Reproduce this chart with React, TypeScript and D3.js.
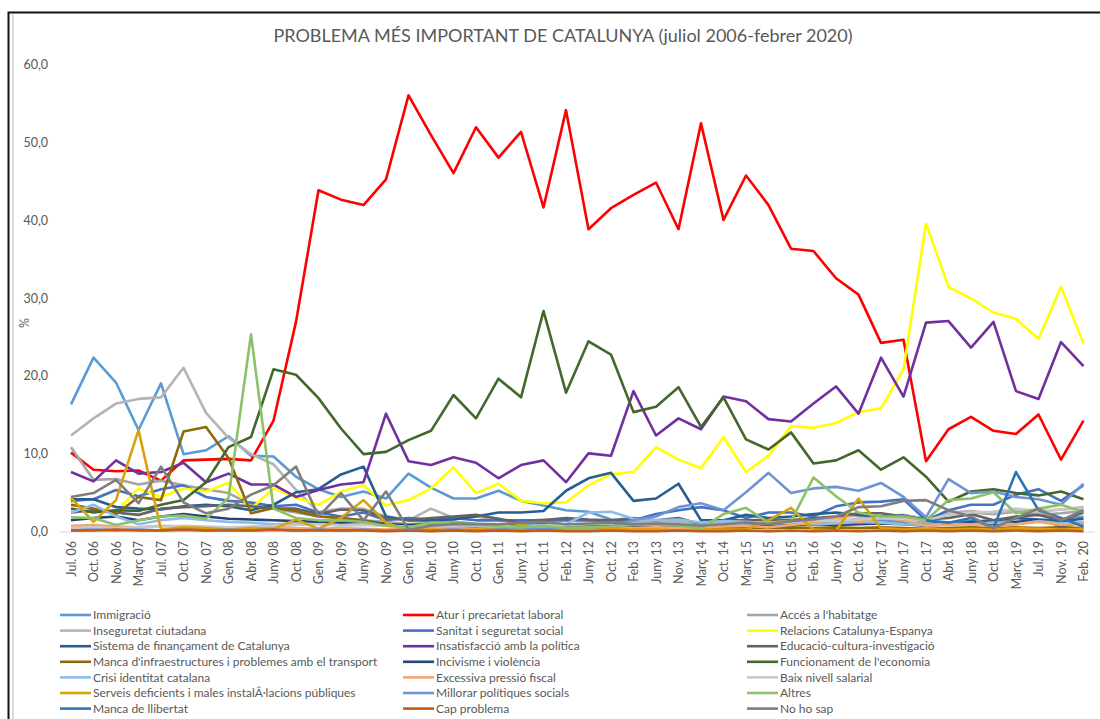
import { useEffect, useRef } from "react";
import * as d3 from "d3";

const periods = [
  "Jul. 06", "Oct. 06", "Nov. 06", "Març 07", "Jul. 07", "Oct. 07", "Nov. 07", "Gen. 08", "Abr. 08", "Juny 08",
  "Oct. 08", "Gen. 09", "Abr. 09", "Juny 09", "Nov. 09", "Gen. 10", "Abr. 10", "Juny 10", "Oct. 10", "Gen. 11",
  "Juny 11", "Oct. 11", "Feb. 12", "Juny 12", "Oct. 12", "Feb. 13", "Juny 13", "Nov. 13", "Març 14", "Oct. 14",
  "Març 15", "Juny 15", "Oct. 15", "Feb. 16", "Juny 16", "Oct. 16", "Març 17", "Juny 17", "Oct. 17", "Abr. 18",
  "Juny 18", "Oct. 18", "Març. 19", "Jul. 19", "Nov. 19", "Feb. 20",
];

const yTicks = [0, 10, 20, 30, 40, 50, 60];

// percentatges llegits del gràfic
const immigracio = [16.4, 22.4, 19.2, 13.1, 19.1, 10.0, 10.5, 12.3, 9.8, 9.7, 7.1, 5.5, 4.5, 5.2, 4.3, 7.5, 5.7, 4.3, 4.3, 5.3, 4.0, 3.4, 2.8, 2.6, 1.6, 1.3, 1.2, 1.0, 1.0, 1.1, 1.3, 1.2, 1.3, 1.2, 1.4, 1.2, 1.5, 1.3, 1.0, 1.2, 1.4, 1.3, 1.8, 1.5, 1.6, 2.0];
const atur = [10.2, 8.0, 7.8, 7.9, 6.6, 9.2, 9.3, 9.4, 9.2, 14.3, 27.0, 43.9, 42.7, 42.0, 45.3, 56.1, 51.0, 46.1, 52.0, 48.1, 51.4, 41.7, 54.2, 38.9, 41.6, 43.3, 44.9, 38.9, 52.5, 40.1, 45.8, 42.0, 36.4, 36.1, 32.6, 30.5, 24.3, 24.7, 9.1, 13.2, 14.8, 13.0, 12.6, 15.1, 9.3, 14.3];
const acces = [10.9, 6.7, 6.8, 6.1, 6.6, 6.0, 5.5, 5.0, 3.5, 3.0, 2.5, 2.0, 1.8, 1.5, 1.3, 1.0, 1.2, 1.3, 1.1, 1.0, 1.0, 0.9, 0.9, 0.8, 0.8, 0.7, 0.8, 0.8, 0.7, 0.9, 1.0, 1.1, 1.2, 1.4, 1.3, 1.7, 2.0, 1.9, 1.2, 2.2, 2.5, 2.3, 2.6, 2.2, 2.4, 2.7];
const inseguretat = [12.4, 14.6, 16.5, 17.1, 17.3, 21.1, 15.3, 12.1, 10.0, 8.7, 5.4, 2.6, 3.0, 3.0, 2.0, 1.5, 3.0, 1.8, 2.0, 1.5, 1.4, 1.6, 1.7, 1.5, 1.4, 1.3, 1.2, 1.3, 1.0, 1.2, 1.3, 1.4, 1.6, 1.5, 1.9, 2.1, 2.0, 2.2, 1.7, 2.5, 2.7, 2.4, 2.8, 2.6, 2.9, 3.2];
const sanitat = [4.0, 4.2, 5.4, 4.6, 5.5, 6.0, 4.5, 4.0, 3.8, 3.3, 3.5, 2.5, 2.0, 2.5, 1.5, 1.8, 1.6, 1.8, 1.5, 1.5, 1.5, 1.5, 1.5, 1.5, 1.5, 1.5, 2.3, 2.8, 3.2, 2.8, 1.8, 2.5, 2.5, 2.0, 3.3, 3.8, 3.9, 4.2, 1.5, 2.8, 3.5, 3.5, 4.8, 5.5, 4.0, 6.0];
const relacions = [3.5, 3.0, 2.6, 5.6, 4.5, 5.6, 5.2, 6.3, 3.0, 5.6, 4.4, 3.5, 5.2, 6.0, 3.4, 4.1, 5.6, 8.3, 5.0, 6.2, 4.0, 3.7, 3.8, 6.0, 7.4, 7.7, 10.9, 9.3, 8.2, 12.2, 7.7, 9.8, 13.6, 13.4, 14.0, 15.4, 15.9, 20.9, 39.6, 31.5, 30.0, 28.2, 27.4, 24.8, 31.5, 24.2];
const sistema = [4.2, 4.2, 3.2, 3.0, 2.9, 3.3, 3.5, 3.3, 2.8, 3.5, 5.1, 5.5, 7.4, 8.4, 2.0, 1.5, 1.5, 1.6, 2.0, 2.5, 2.5, 2.7, 5.3, 6.9, 7.6, 4.0, 4.3, 6.2, 1.5, 1.5, 2.2, 1.8, 2.0, 2.3, 2.5, 2.2, 2.0, 2.1, 1.5, 1.0, 1.3, 1.5, 1.8, 1.6, 1.4, 1.7];
const insatisfaccio = [7.7, 6.5, 9.2, 7.5, 7.7, 8.9, 6.4, 7.5, 6.1, 6.1, 4.5, 5.4, 6.1, 6.4, 15.2, 9.1, 8.6, 9.6, 8.9, 6.9, 8.6, 9.2, 6.4, 10.1, 9.8, 18.1, 12.4, 14.6, 13.2, 17.4, 16.8, 14.5, 14.2, 16.5, 18.7, 15.2, 22.4, 17.4, 26.9, 27.1, 23.7, 27.0, 18.1, 17.1, 24.4, 21.3];
const educacio = [2.5, 2.8, 2.5, 2.2, 3.0, 3.2, 3.3, 3.5, 3.3, 3.0, 3.0, 2.3, 2.9, 2.8, 1.8, 1.5, 1.8, 2.0, 2.2, 1.7, 1.2, 1.5, 1.8, 1.6, 1.5, 1.8, 1.5, 1.8, 1.0, 1.5, 1.5, 1.6, 1.5, 1.8, 2.0, 2.4, 2.4, 2.0, 1.6, 1.8, 2.3, 1.5, 2.0, 2.2, 1.5, 2.5];
const mancaInfra = [3.5, 3.0, 2.3, 4.5, 4.1, 12.9, 13.5, 9.5, 2.4, 3.1, 2.7, 2.0, 1.8, 1.5, 1.0, 0.8, 0.7, 0.8, 0.6, 0.7, 0.6, 0.5, 0.5, 0.6, 0.5, 0.5, 0.6, 0.5, 0.5, 0.5, 0.6, 0.5, 0.6, 0.5, 0.6, 0.5, 0.6, 0.5, 0.4, 0.5, 0.6, 0.5, 0.6, 0.5, 0.6, 0.5];
const incivisme = [1.5, 1.8, 2.0, 1.5, 2.0, 2.3, 2.0, 1.7, 1.6, 1.5, 1.4, 1.3, 1.2, 1.3, 1.0, 0.9, 1.0, 1.1, 1.0, 0.9, 0.9, 1.0, 0.9, 0.8, 0.9, 0.8, 0.8, 0.9, 0.7, 0.8, 0.9, 0.8, 0.9, 1.0, 0.9, 1.0, 1.1, 1.0, 0.8, 1.0, 1.2, 1.0, 1.3, 1.5, 0.8, 1.2];
const funcionament = [3.0, 2.5, 2.8, 2.7, 3.5, 4.1, 6.4, 10.9, 12.2, 20.9, 20.2, 17.2, 13.3, 10.0, 10.3, 11.8, 13.0, 17.6, 14.6, 19.7, 17.3, 28.4, 17.9, 24.5, 22.8, 15.4, 16.1, 18.6, 13.5, 17.3, 11.9, 10.6, 12.8, 8.8, 9.2, 10.5, 8.0, 9.6, 7.1, 3.9, 5.2, 5.5, 5.0, 4.7, 5.2, 4.2];
const crisiIdentitat = [2.5, 3.5, 2.0, 1.0, 1.5, 1.8, 1.5, 1.3, 1.2, 1.0, 1.1, 1.0, 0.9, 1.0, 0.8, 0.7, 0.8, 0.9, 0.8, 0.7, 0.8, 0.9, 1.0, 2.5, 2.6, 1.7, 1.5, 1.6, 1.2, 1.4, 1.3, 1.1, 1.2, 1.0, 1.1, 1.3, 1.2, 1.0, 0.9, 1.1, 1.0, 1.2, 1.0, 1.4, 1.1, 1.3];
const pressioFiscal = [0.8, 0.9, 0.7, 0.6, 0.8, 0.7, 0.6, 0.5, 0.6, 0.7, 0.5, 0.4, 0.5, 0.4, 0.3, 0.5, 0.4, 0.5, 0.4, 0.5, 0.4, 0.5, 0.4, 0.5, 0.4, 0.5, 0.6, 0.5, 0.6, 0.7, 0.8, 0.6, 0.9, 1.2, 1.8, 1.3, 1.8, 1.5, 0.8, 0.9, 1.0, 0.7, 1.0, 1.3, 0.9, 1.1];
const baixSalarial = [0.5, 0.6, 0.5, 0.6, 0.7, 0.8, 0.7, 0.6, 0.7, 0.8, 0.9, 1.0, 0.8, 0.9, 0.8, 0.6, 0.7, 0.8, 0.9, 0.8, 0.7, 0.8, 0.9, 1.0, 1.1, 1.0, 0.9, 1.0, 0.8, 1.0, 1.1, 1.2, 1.3, 1.5, 1.4, 1.6, 1.8, 1.7, 1.5, 2.2, 2.5, 2.6, 3.0, 2.7, 2.9, 3.0];
const serveis = [4.4, 1.3, 4.1, 13.1, 0.3, 0.6, 0.5, 0.3, 0.5, 0.4, 1.6, 0.4, 1.8, 4.1, 1.2, 0.2, 0.3, 0.2, 0.3, 0.3, 1.0, 0.2, 0.3, 0.3, 0.4, 0.3, 0.3, 0.2, 0.3, 0.3, 0.3, 1.5, 3.1, 0.3, 0.2, 4.3, 0.5, 0.3, 0.4, 0.3, 0.4, 0.3, 0.5, 0.4, 0.3, 0.4];
const millorar = [0.2, 0.3, 0.2, 0.3, 0.2, 0.3, 0.2, 0.3, 0.2, 0.3, 0.2, 0.3, 0.2, 0.3, 0.2, 0.3, 0.2, 0.3, 0.2, 0.3, 0.3, 0.4, 0.5, 0.6, 0.7, 1.5, 2.0, 3.2, 3.7, 2.8, 5.1, 7.6, 5.0, 5.6, 5.8, 5.3, 6.3, 4.5, 1.9, 6.8, 5.0, 5.2, 4.5, 4.2, 3.5, 6.2];
const altres = [1.9, 1.8, 0.9, 1.5, 2.0, 2.1, 1.7, 4.4, 25.4, 3.0, 1.8, 1.5, 1.5, 1.3, 0.8, 0.6, 1.2, 1.1, 1.0, 0.7, 0.6, 0.8, 0.5, 0.6, 0.7, 0.9, 1.0, 0.8, 0.5, 2.3, 3.1, 1.2, 1.4, 7.0, 4.6, 2.5, 2.0, 2.0, 1.5, 4.1, 4.3, 5.1, 2.4, 3.0, 3.5, 2.6];
const mancaLlibertat = [null, null, null, null, null, null, null, null, null, null, null, null, null, null, null, null, null, null, null, null, null, null, null, null, null, null, null, null, null, null, null, null, null, null, null, null, null, null, 1.5, 1.2, 1.8, 0.5, 7.7, 2.8, 1.8, 0.7];
const capProblema = [0.2, 0.2, 0.3, 0.2, 0.2, 0.3, 0.2, 0.2, 0.2, 0.3, 0.2, 0.2, 0.2, 0.2, 0.1, 0.2, 0.1, 0.2, 0.1, 0.2, 0.1, 0.2, 0.1, 0.1, 0.2, 0.1, 0.1, 0.2, 0.1, 0.1, 0.2, 0.1, 0.2, 0.1, 0.2, 0.1, 0.2, 0.1, 0.2, 0.1, 0.2, 0.1, 0.2, 0.1, 0.2, 0.1];
const noHoSap = [4.5, 5.0, 6.7, 3.7, 8.4, 3.8, 2.4, 3.0, 4.8, 6.0, 8.4, 2.0, 5.0, 1.5, 5.2, 0.3, 0.8, 1.0, 1.0, 1.0, 1.2, 1.3, 1.0, 1.1, 1.2, 1.0, 1.1, 1.0, 0.8, 1.0, 1.2, 1.0, 1.4, 1.6, 2.0, 3.2, 3.3, 4.0, 4.1, 2.8, 2.0, 0.5, 1.8, 3.0, 1.5, 2.8];

const seriesNames = [
  "Immigració", "Atur i precarietat laboral", "Accés a l'habitatge",
  "Inseguretat ciutadana", "Sanitat i seguretat social", "Relacions Catalunya-Espanya",
  "Sistema de finançament de Catalunya", "Insatisfacció amb la política", "Educació-cultura-investigació",
  "Manca d'infraestructures i problemes amb el transport", "Incivisme i violència", "Funcionament de l'economia",
  "Crisi identitat catalana", "Excessiva pressió fiscal", "Baix nivell salarial",
  "Serveis deficients i males instalÂ·lacions públiques", "Millorar polítiques socials", "Altres",
  "Manca de llibertat", "Cap problema", "No ho sap",
];
const seriesValues = [
  immigracio, atur, acces,
  inseguretat, sanitat, relacions,
  sistema, insatisfaccio, educacio,
  mancaInfra, incivisme, funcionament,
  crisiIdentitat, pressioFiscal, baixSalarial,
  serveis, millorar, altres,
  mancaLlibertat, capProblema, noHoSap,
];
const seriesColors = [
  "#5b9bd5", "#ff0000", "#a5a5a5",
  "#b4b4b4", "#4472c4", "#ffff00",
  "#255e91", "#7030a0", "#636363",
  "#8c6a0a", "#264478", "#43682b",
  "#8dbde8", "#f4a672", "#c8c8c8",
  "#d9a20c", "#6f93d6", "#8cc168",
  "#2e75b6", "#c55a11", "#7f7f7f",
];

export default function App() {
  const svgRef = useRef<SVGSVGElement>(null);

  useEffect(() => {
    if (!svgRef.current) return;
    const svg = d3.select(svgRef.current);
    svg.selectAll("*").remove();

    const font = "Lato, 'Open Sans', sans-serif";
    const grey = "#595959";

    // frame
    svg.append("rect").attr("x", 8.5).attr("y", 12.5).attr("width", 1110).attr("height", 730)
      .attr("fill", "#fff").attr("stroke", "#111").attr("stroke-width", 2);
    svg.append("line").attr("x1", 13).attr("x2", 13).attr("y1", 14).attr("y2", 719)
      .attr("stroke", "#d0d0d0").attr("stroke-width", 1.5);

    svg.append("text").attr("x", 563).attr("y", 42).attr("text-anchor", "middle")
      .attr("font-family", font).attr("font-size", 18).attr("fill", grey)
      .text("PROBLEMA MÉS IMPORTANT DE CATALUNYA (juliol 2006-febrer 2020)");

    const x = d3.scalePoint<string>().domain(periods).range([71, 1083.5]);
    const y = d3.scaleLinear().domain([0, 60]).range([532, 65]);

    // y ticks
    svg.append("g").selectAll("text").data(yTicks).join("text")
      .attr("x", 48).attr("y", (d) => y(d) + 4).attr("text-anchor", "end")
      .attr("font-family", font).attr("font-size", 12.5).attr("fill", grey)
      .text((d) => d3.format(".1f")(d).replace(".", ","));

    svg.append("text").attr("transform", "translate(29,323) rotate(-90)").attr("text-anchor", "middle")
      .attr("font-family", font).attr("font-size", 12.5).attr("fill", grey).text("%");

    svg.append("line").attr("x1", 60).attr("x2", 1095).attr("y1", y(0)).attr("y2", y(0))
      .attr("stroke", "#d9d9d9").attr("stroke-width", 1);

    // x labels
    svg.append("g").selectAll("text").data(periods).join("text")
      .attr("transform", (d) => `translate(${(x(d) ?? 0) + 4.5},541) rotate(-90)`)
      .attr("text-anchor", "end")
      .attr("font-family", font).attr("font-size", 12.5).attr("fill", grey)
      .text((d) => d);

    const line = d3.line<number | null>()
      .defined((d) => d !== null)
      .x((_, i) => x(periods[i]) ?? 0)
      .y((d) => y(d as number));

    const g = svg.append("g");
    seriesValues.forEach((vals, k) => {
      g.append("path").datum(vals).attr("fill", "none")
        .attr("stroke", seriesColors[k]).attr("stroke-width", 2.6)
        .attr("stroke-linejoin", "round").attr("d", line as any);
    });

    // legend, 3 columns
    const colX = [60, 403, 747];
    const leg = svg.append("g");
    seriesNames.forEach((name, k) => {
      const cx = colX[k % 3];
      const cy = 615 + Math.floor(k / 3) * 15.6;
      leg.append("line").attr("x1", cx).attr("x2", cx + 31).attr("y1", cy).attr("y2", cy)
        .attr("stroke", seriesColors[k]).attr("stroke-width", 2.6);
      leg.append("text").attr("x", cx + 33).attr("y", cy + 4.2)
        .attr("font-family", font).attr("font-size", 12).attr("fill", grey).text(name);
    });
  }, []);

  return (
    <svg
      ref={svgRef}
      width={1100}
      height={719}
      style={{ position: "absolute", left: 0, top: 0, display: "block", background: "#fff" }}
    />
  );
}
